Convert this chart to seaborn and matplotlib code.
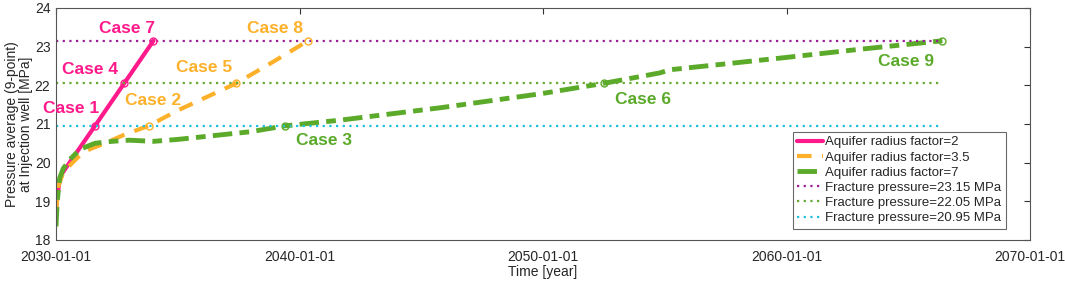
import pandas as pd
import seaborn as sns
import matplotlib.pyplot as plt

# Data (time in decimal years, pressure in MPa)
pink_t = [2030.0, 2030.05, 2030.15, 2030.25, 2031.6, 2032.8, 2034.0]
pink_p = [18.75, 19.1, 19.55, 19.72, 20.95, 22.05, 23.15]

orange_t = [2030.0, 2030.1, 2030.3, 2030.6, 2031.0, 2031.4, 2032.0, 2032.8,
            2033.8, 2035.0, 2036.2, 2037.4, 2038.9, 2040.35]
orange_p = [18.7, 19.4, 19.75, 19.95, 20.2, 20.35, 20.5, 20.72,
            20.95, 21.35, 21.7, 22.05, 22.6, 23.15]

green_t = [2030.0, 2030.05, 2030.15, 2030.3, 2030.6, 2031.0, 2031.6, 2032.3,
           2033.0, 2034.0, 2035.0, 2036.5, 2038.0, 2039.4, 2041.7, 2045.8,
           2049.9, 2052.5, 2054.8, 2055.2, 2056.4, 2060.0, 2063.0, 2066.4]
green_p = [18.35, 19.0, 19.6, 19.85, 20.1, 20.35, 20.5, 20.55,
           20.58, 20.55, 20.6, 20.7, 20.8, 20.95, 21.1, 21.42,
           21.78, 22.05, 22.32, 22.4, 22.48, 22.72, 22.93, 23.15]

fracture_p = [23.15, 22.05, 20.95]
fracture_end = 2066.4

case_names = ['Case 1', 'Case 4', 'Case 7', 'Case 2', 'Case 5', 'Case 8', 'Case 3', 'Case 6', 'Case 9']
case_t = [2031.6, 2032.8, 2034.0, 2033.8, 2037.4, 2040.35, 2039.4, 2052.5, 2066.4]
case_p = [20.95, 22.05, 23.15, 20.95, 22.05, 23.15, 20.95, 22.05, 23.15]

xtick_years = [2030, 2040, 2050, 2060, 2070]
xtick_labels = ['2030-01-01', '2040-01-01', '2050-01-01', '2060-01-01', '2070-01-01']

pink = '#FF1A8C'
orange = '#FDB12A'
green = '#5BAA2A'
frac_colors = ['#9B1F99', '#66AA33', '#1FBFE0']

sns.set_style('white')
plt.rcParams['font.family'] = ['Liberation Sans', 'DejaVu Sans']

fig = plt.figure(figsize=(10.65, 2.82), dpi=100)
ax = fig.add_axes([0.0526, 0.149, 0.9146, 0.823])

pink_df = pd.DataFrame({'t': pink_t, 'p': pink_p})
orange_df = pd.DataFrame({'t': orange_t, 'p': orange_p})
green_df = pd.DataFrame({'t': green_t, 'p': green_p})

sns.lineplot(data=pink_df, x='t', y='p', ax=ax, color=pink, lw=3, label='Aquifer radius factor=2')
sns.lineplot(data=orange_df, x='t', y='p', ax=ax, color=orange, lw=3, dashes=(3.5, 2.5),
             label='Aquifer radius factor=3.5')
sns.lineplot(data=green_df, x='t', y='p', ax=ax, color=green, lw=3.5, dashes=(4, 1.5, 2, 1.5),
             label='Aquifer radius factor=7')

for p, c in zip(fracture_p, frac_colors):
    ax.plot([2030, fracture_end], [p, p], color=c, lw=1.6, ls=(0, (1, 2)),
            label=f'Fracture pressure={p:.2f} MPa')

case_colors = [pink] * 3 + [orange] * 3 + [green] * 3
for t, p, c in zip(case_t, case_p, case_colors):
    ax.plot(t, p, 'o', mfc='none', mec=c, ms=5, mew=1)

# label positions (time, pressure) for the case annotations
label_pos = [(2030.6, 21.4), (2031.4, 22.4), (2032.9, 23.48),
             (2034.0, 21.6), (2036.1, 22.45), (2039.0, 23.48),
             (2041.0, 20.58), (2054.1, 21.62), (2064.9, 22.62)]
for name, (t, p), c in zip(case_names, label_pos, case_colors):
    ax.text(t, p, name, color=c, fontsize=12.5, fontweight='bold', ha='center', va='center')

ax.set_xlim(2030, 2070)
ax.set_ylim(18, 24)
ax.set_xticks(xtick_years)
ax.set_xticklabels(xtick_labels)
ax.set_yticks([18, 19, 20, 21, 22, 23, 24])
ax.tick_params(direction='in', top=True, right=True, labelsize=10, length=4, color='#333333')
ax.tick_params(axis='x', pad=7)
ax.tick_params(axis='y', pad=4)
for s in ax.spines.values():
    s.set_color('#555555')
    s.set_linewidth(0.8)
ax.set_xlabel('Time [year]', fontsize=10, labelpad=1)
ax.set_ylabel('Pressure average (9-point)\nat Injection well [MPa]', fontsize=10, linespacing=1.0)
ax.yaxis.set_label_coords(-0.024, 0.5)

leg = ax.legend(loc='lower right', fontsize=9.5, frameon=True, fancybox=False, edgecolor='#444444',
                handlelength=1.9, handletextpad=0.2, borderpad=0.35, labelspacing=0.22,
                bbox_to_anchor=(0.982, 0.02))
leg.get_frame().set_linewidth(0.8)

fig.savefig('out.png', dpi=100)
